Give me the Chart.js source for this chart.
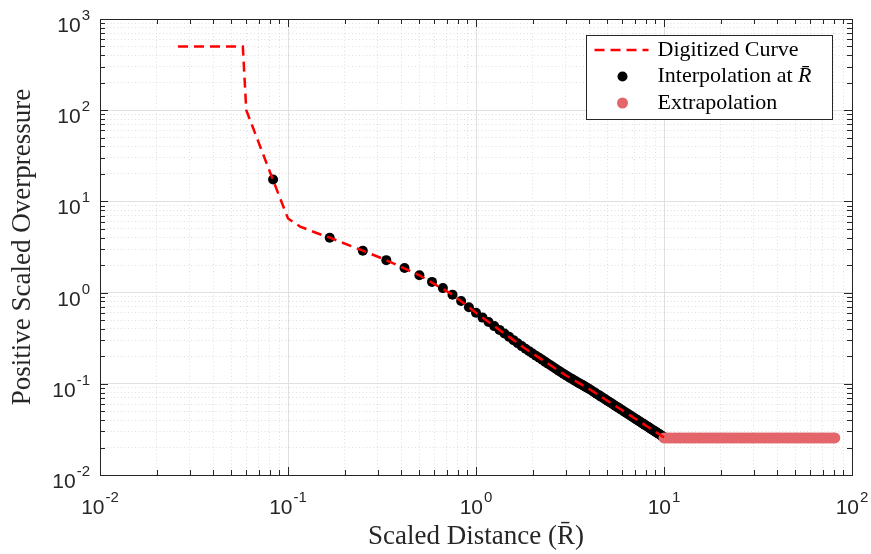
<!DOCTYPE html>
<html>
<head>
<meta charset="utf-8">
<script src="https://cdn.jsdelivr.net/npm/chart.js@4"></script>
<style>
  html, body { margin: 0; padding: 0; background: #fff; }
  canvas { display: block; }
</style>
</head>
<body>
<canvas id="overpressureChart" width="871" height="554"></canvas>
<script>
// Positive scaled overpressure vs scaled distance (log-log)
const curveX = [0.026, 0.0575, 0.06, 0.083, 0.1, 0.116, 0.142, 0.167, 0.25, 0.333, 0.5, 0.75, 1,
                1.25, 1.5, 1.833, 2, 2.5, 3, 3.5, 4, 5, 6, 7, 8, 9, 10];
const curveY = [500, 500, 100, 17.4, 6.5, 5.3, 4.5, 4.0, 2.88, 2.27, 1.55, 0.95, 0.60,
                0.429, 0.327, 0.242, 0.215, 0.159, 0.124, 0.103, 0.0878, 0.0652, 0.0512, 0.0417, 0.0349, 0.0299, 0.0258];

// Interpolated values at the requested scaled distances
const interpX = [0.0833, 0.1667, 0.25, 0.3333, 0.4167, 0.5, 0.5833, 0.6667, 0.75, 0.8333, 0.9167, 1,
                 1.0833, 1.1667, 1.25, 1.3333, 1.4167, 1.5, 1.5833, 1.6667, 1.75, 1.8333, 1.9167, 2,
                 2.0833, 2.1667, 2.25, 2.3333, 2.4167, 2.5, 2.5833, 2.6667, 2.75, 2.8333, 2.9167, 3,
                 3.0833, 3.1667, 3.25, 3.3333, 3.4167, 3.5, 3.5833, 3.6667, 3.75, 3.8333, 3.9167, 4,
                 4.125, 4.25, 4.375, 4.5, 4.625, 4.75, 4.875, 5,
                 5.125, 5.25, 5.375, 5.5, 5.625, 5.75, 5.875, 6,
                 6.125, 6.25, 6.375, 6.5, 6.625, 6.75, 6.875, 7,
                 7.125, 7.25, 7.375, 7.5, 7.625, 7.75, 7.875, 8,
                 8.125, 8.25, 8.375, 8.5, 8.625, 8.75, 8.875, 9,
                 9.125, 9.25, 9.375, 9.5, 9.625, 9.75, 9.875, 10];
const interpY = [17.4, 4.0, 2.88, 2.27, 1.86, 1.55, 1.31, 1.12, 0.95, 0.81, 0.69, 0.60,
                 0.532, 0.476, 0.429, 0.390, 0.356, 0.327, 0.301, 0.279, 0.259, 0.242, 0.228, 0.215,
                 0.2034, 0.193, 0.1832, 0.174, 0.1662, 0.159, 0.1518, 0.145, 0.1394, 0.134, 0.1287, 0.124,
                 0.1200, 0.116, 0.1127, 0.109, 0.1061, 0.103, 0.1002, 0.0975, 0.0949, 0.0924, 0.0900, 0.0878,
                 0.0843, 0.0810, 0.0779, 0.0751, 0.0724, 0.0699, 0.0675, 0.0652,
                 0.0632, 0.0612, 0.0593, 0.0575, 0.0558, 0.0542, 0.0527, 0.0512,
                 0.0498, 0.0485, 0.0472, 0.0460, 0.0449, 0.0438, 0.0427, 0.0417,
                 0.0407, 0.0398, 0.0389, 0.0381, 0.0372, 0.0364, 0.0357, 0.0349,
                 0.0342, 0.0335, 0.0329, 0.0322, 0.0316, 0.0310, 0.0304, 0.0299,
                 0.0293, 0.0288, 0.0283, 0.0278, 0.0273, 0.0268, 0.0264, 0.0258];

// Extrapolation beyond the curve (held at the last value)
const extrapX = [10, 10.3, 10.6, 10.9, 11.3, 11.6, 12, 12.3, 12.7, 13.1, 13.5, 13.9, 14.3, 14.7,
                 15.2, 15.6, 16.1, 16.6, 17.1, 17.6, 18.1, 18.7, 19.2, 19.8, 20.4, 21, 21.6, 22.3,
                 23, 23.6, 24.3, 25.1, 25.8, 26.6, 27.4, 28.2, 29.1, 29.9, 30.8, 31.8, 32.7, 33.7,
                 34.7, 35.8, 36.8, 37.9, 39.1, 40.2, 41.4, 42.7, 44, 45.3, 46.6, 48, 49.5, 51,
                 52.5, 54, 55.7, 57.3, 59, 60.8, 62.6, 64.5, 66.4, 68.4, 70.5, 72.6, 74.8, 77, 79.3, 81];
const extrapY = 0.0255;

// Tick label exponents (labels are 10^n)
const xExponents = ['-2', '-1', '0', '1', '2'];
const yExponents = ['-2', '-1', '0', '1', '2', '3'];

const axisColor = '#262626';

// drop the 1.5 x 10^n ticks Chart.js adds, keep 1..9 x 10^n like MATLAB
function keepDecadeTicks(scale) {
    scale.ticks = scale.ticks.filter(t => {
        const r = t.value / Math.pow(10, Math.floor(Math.log10(t.value) + 1e-9));
        return Math.abs(r - Math.round(r)) < 1e-6;
    });
}

function drawPower(ctx, exp, x, y, align) {
    ctx.font = '21px "Liberation Sans"';
    const wBase = ctx.measureText('10').width;
    ctx.font = '15px "Liberation Sans"';
    const wExp = ctx.measureText(exp).width;
    const w = wBase + wExp + 1;
    const left = align === 'right' ? x - w : x - w / 2;
    ctx.font = '21px "Liberation Sans"';
    ctx.fillText('10', left, y);
    ctx.font = '15px "Liberation Sans"';
    ctx.fillText(exp, left + wBase + 1, y - 12);
}

const matlabAxes = {
    id: 'matlabAxes',
    beforeDatasetsDraw(chart) {
        const {ctx, chartArea: a, scales: {x, y}} = chart;
        ctx.save();
        ctx.strokeStyle = axisColor;
        ctx.lineWidth = 1;
        ctx.beginPath();
        x.ticks.forEach(t => {
            const px = Math.round(x.getPixelForValue(t.value)) + 0.5;
            const len = t.major ? 8 : 5;
            ctx.moveTo(px, a.bottom); ctx.lineTo(px, a.bottom - len);
            ctx.moveTo(px, a.top); ctx.lineTo(px, a.top + len);
        });
        y.ticks.forEach(t => {
            const py = Math.round(y.getPixelForValue(t.value)) + 0.5;
            const len = t.major ? 8 : 5;
            ctx.moveTo(a.left, py); ctx.lineTo(a.left + len, py);
            ctx.moveTo(a.right, py); ctx.lineTo(a.right - len, py);
        });
        ctx.stroke();
        ctx.strokeRect(Math.round(a.left) + 0.5, Math.round(a.top) + 0.5,
                       Math.round(a.width), Math.round(a.height));
        ctx.restore();
    },
    afterDraw(chart) {
        const {ctx, chartArea: a, scales: {x, y}} = chart;
        ctx.save();
        ctx.fillStyle = axisColor;
        ctx.textBaseline = 'alphabetic';
        ctx.textAlign = 'left';
        xExponents.forEach(e => {
            drawPower(ctx, e, x.getPixelForValue(Number('1e' + e)), a.bottom + 39, 'center');
        });
        yExponents.forEach(e => {
            drawPower(ctx, e, a.left - 10, y.getPixelForValue(Number('1e' + e)) + 13, 'right');
        });

        // legend box, top right inside the axes
        const bx = a.right - 265.5, by = a.top + 16.5, bw = 246, bh = 84;
        ctx.fillStyle = '#fff';
        ctx.fillRect(bx, by, bw, bh);
        ctx.strokeStyle = axisColor;
        ctx.lineWidth = 1;
        ctx.strokeRect(bx, by, bw, bh);
        const rows = [by + 14.5, by + 41, by + 67.5];
        ctx.textBaseline = 'middle';
        chart.data.datasets.forEach((ds, i) => {
            const ry = rows[i];
            if (ds.showLine) {
                ctx.save();
                ctx.strokeStyle = ds.borderColor;
                ctx.lineWidth = ds.borderWidth;
                ctx.setLineDash(ds.borderDash);
                ctx.beginPath();
                ctx.moveTo(bx + 8, ry); ctx.lineTo(bx + 62, ry);
                ctx.stroke();
                ctx.restore();
            } else {
                ctx.fillStyle = ds.backgroundColor;
                ctx.beginPath();
                ctx.arc(bx + 36, ry, ds.pointRadius, 0, Math.PI * 2);
                ctx.fill();
            }
            ctx.fillStyle = '#000';
            const m = ds.label.match(/^(.*?)(R\u0304)$/);
            ctx.font = '22px "Liberation Serif"';
            ctx.fillText(m ? m[1] : ds.label, bx + 71, ry);
            if (m) {
                const w = ctx.measureText(m[1]).width;
                ctx.font = 'italic 22px "Liberation Serif"';
                ctx.fillText(m[2], bx + 71 + w, ry);
            }
        });
        ctx.restore();
    }
};

const gridColor = c => (c.tick && c.tick.major) ? '#e0e0e0' : 'rgba(38,38,38,0.15)';
const gridDash = c => (c.tick && !c.tick.major) ? [1, 2.5] : [];

new Chart(document.getElementById('overpressureChart'), {
    type: 'scatter',
    data: {
        datasets: [{
            label: 'Digitized Curve',
            data: curveX.map((v, i) => ({x: v, y: curveY[i]})),
            showLine: true,
            borderColor: '#ff0000',
            borderWidth: 2.5,
            borderDash: [10, 6],
            pointRadius: 0,
            order: 0
        }, {
            label: 'Interpolation at R\u0304',
            data: interpX.map((v, i) => ({x: v, y: interpY[i]})),
            backgroundColor: '#000000',
            borderWidth: 0,
            pointRadius: 5,
            order: 2
        }, {
            label: 'Extrapolation',
            data: extrapX.map(v => ({x: v, y: extrapY})),
            backgroundColor: '#e3666b',
            borderWidth: 0,
            pointRadius: 5.5,
            order: 1
        }]
    },
    plugins: [matlabAxes],
    options: {
        responsive: false,
        animation: false,
        events: [],
        layout: { padding: { top: 19, right: 19, left: 0, bottom: 0 } },
        plugins: {
            legend: { display: false },
            tooltip: { enabled: false }
        },
        scales: {
            x: {
                type: 'logarithmic',
                min: 0.01,
                max: 100,
                afterBuildTicks: keepDecadeTicks,
                afterFit: s => { s.height = 79; },
                ticks: { display: false },
                grid: { color: gridColor, drawTicks: false },
                border: { display: false, dash: gridDash },
                title: {
                    display: true,
                    text: 'Scaled Distance (R\u0304)',
                    color: axisColor,
                    font: { family: 'Liberation Serif', size: 27 },
                    padding: { top: 0, bottom: 1 }
                }
            },
            y: {
                type: 'logarithmic',
                min: 0.01,
                max: 1000,
                afterBuildTicks: keepDecadeTicks,
                afterFit: s => { s.width = 100; },
                ticks: { display: false },
                grid: { color: gridColor, drawTicks: false },
                border: { display: false, dash: gridDash },
                title: {
                    display: true,
                    text: 'Positive Scaled Overpressure',
                    color: axisColor,
                    font: { family: 'Liberation Serif', size: 27 },
                    padding: { top: 7, bottom: 0 }
                }
            }
        }
    }
});
</script>
</body>
</html>
